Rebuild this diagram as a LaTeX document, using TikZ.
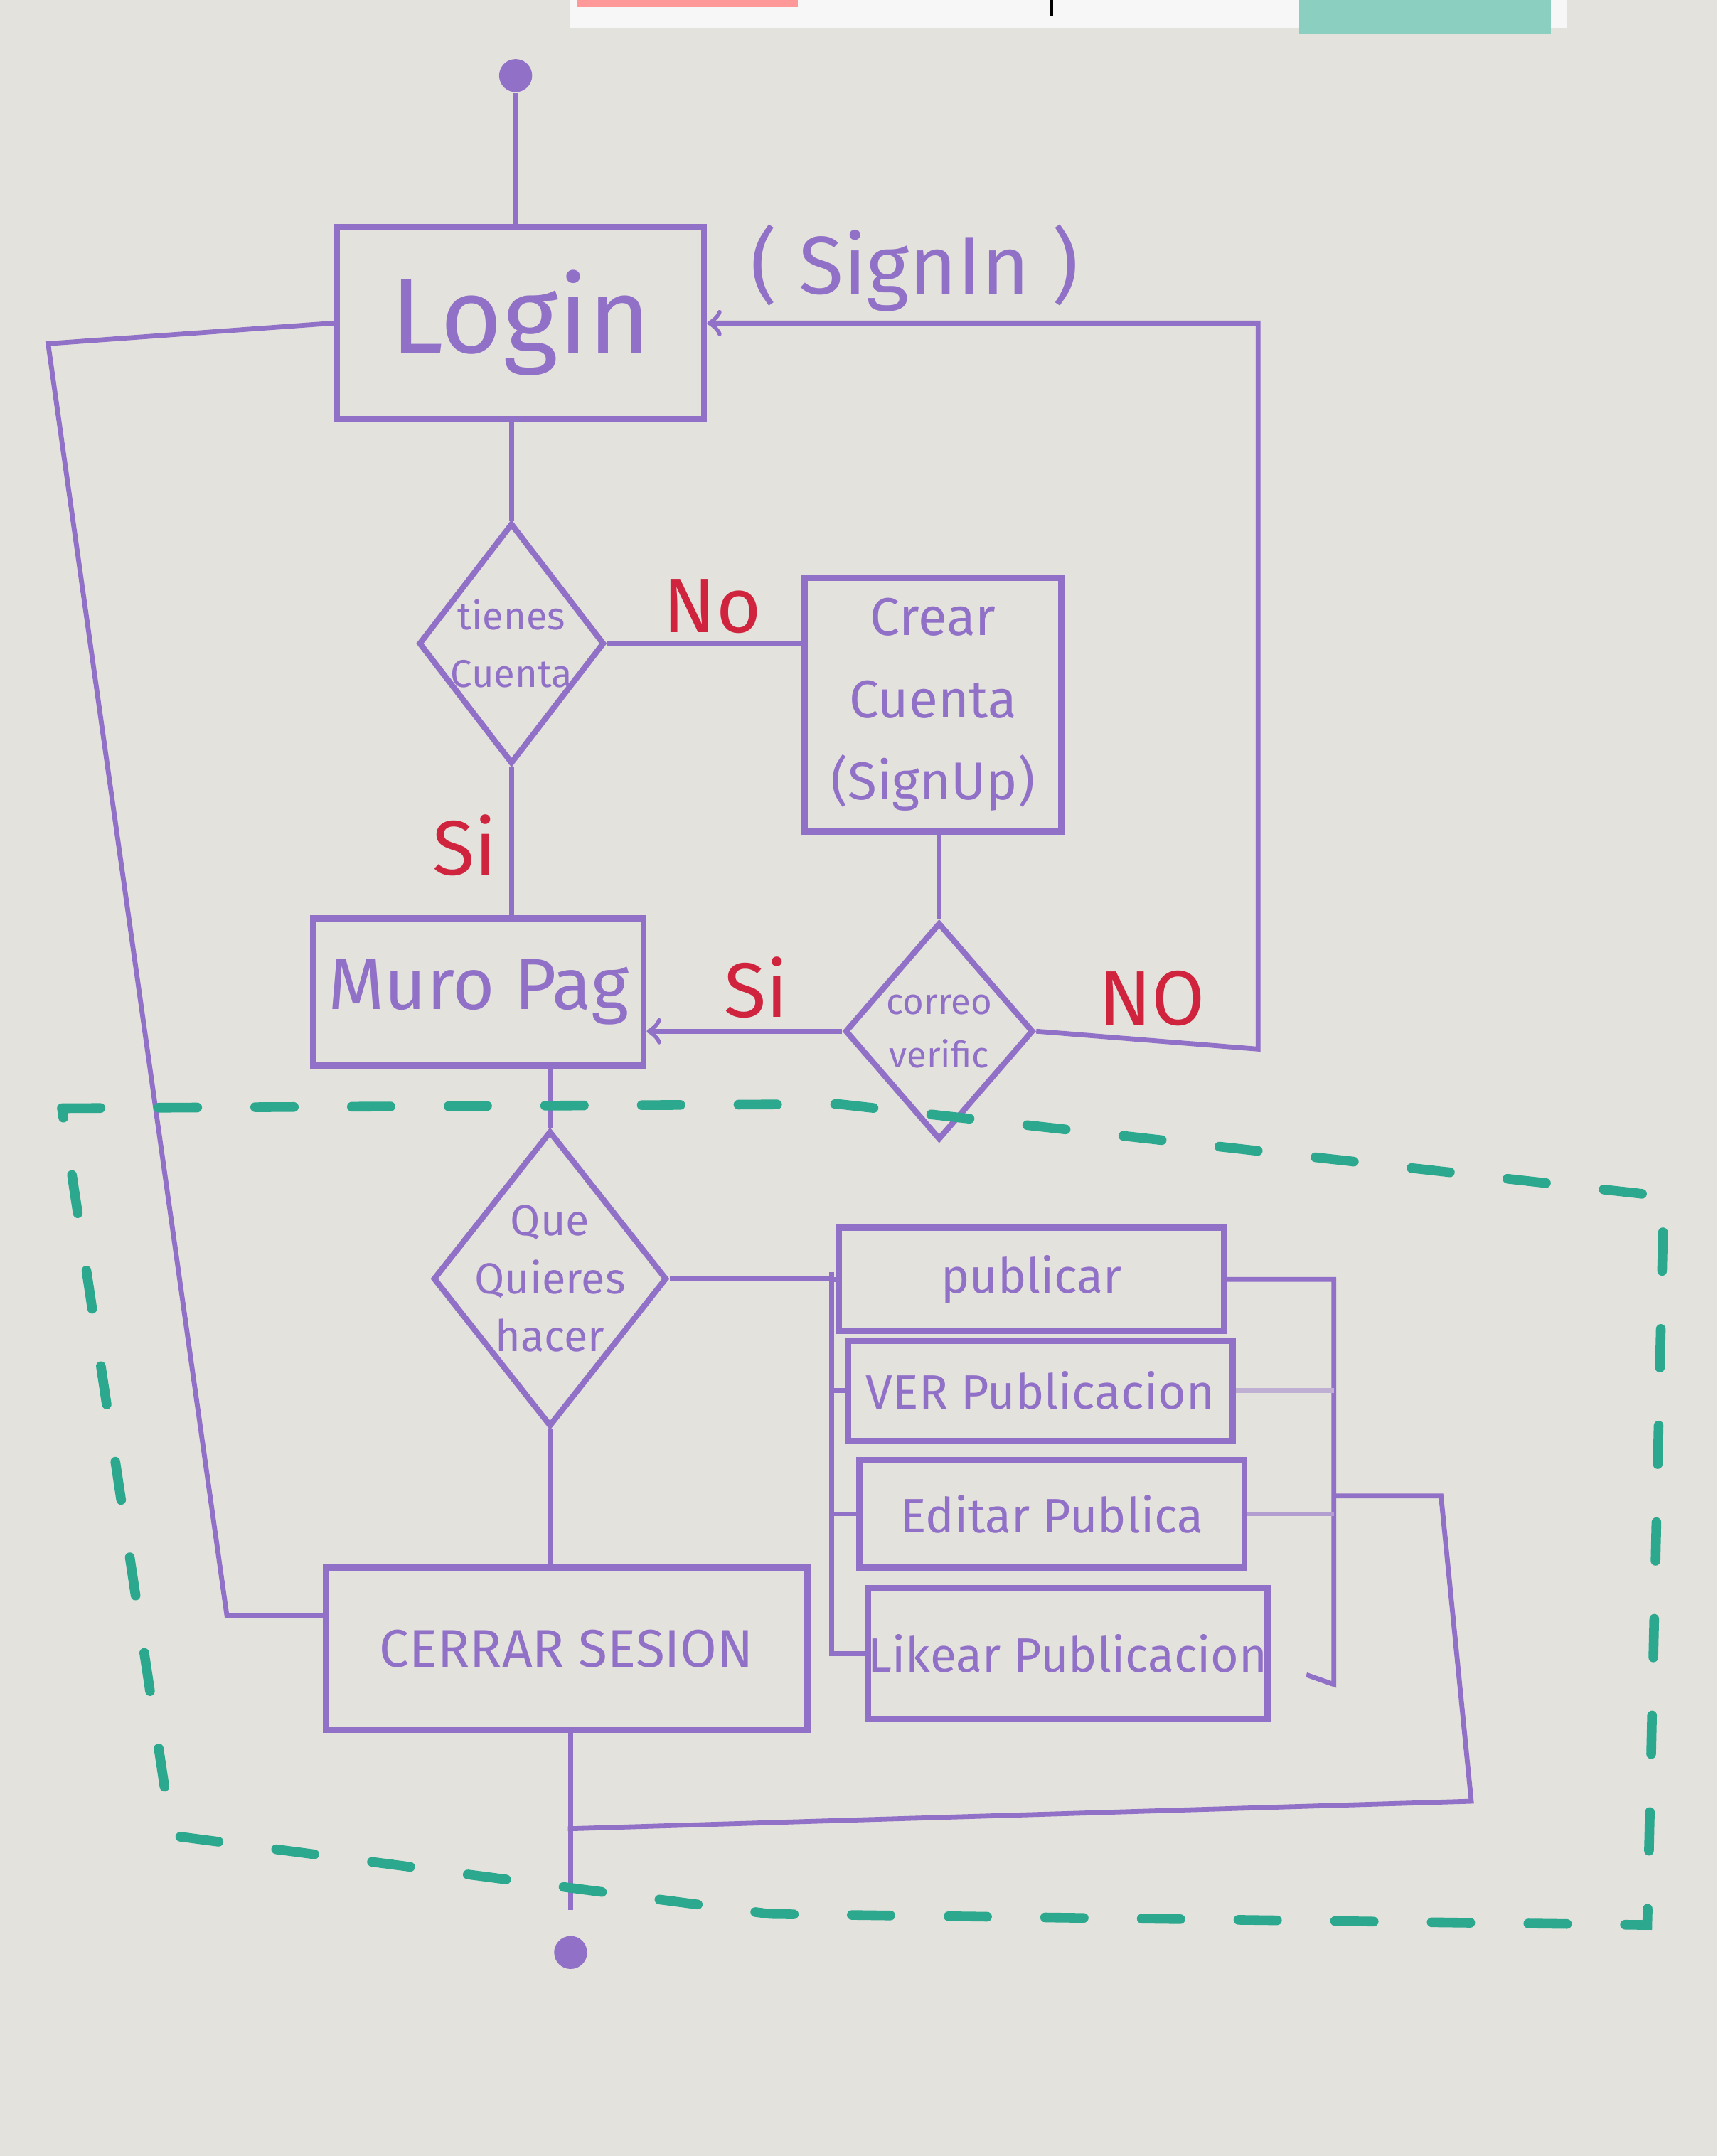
\documentclass[tikz,border=0pt]{standalone}
\usepackage{fontspec}
\setmainfont{Fira Sans}
\usetikzlibrary{shapes.geometric,positioning}

\definecolor{pen}{RGB}{145,112,200}
\definecolor{ink}{RGB}{208,36,62}
\definecolor{tealmark}{RGB}{44,168,142}
\definecolor{board}{RGB}{227,226,220}

\tikzset{
  box/.style={draw=pen, line width=1.3pt, rectangle, text=pen, align=center, inner sep=0pt},
  act/.style={box, minimum width=2.8cm, font=\fontsize{10}{10}\selectfont},
  choice/.style={draw=pen, line width=1.2pt, diamond, aspect=1, text=pen, align=center, inner sep=-2mm},
  answer/.style={text=ink, font=\fontsize{16}{16}\selectfont},
  wire/.style={draw=pen, line width=1pt},
  dot/.style={circle, fill=pen, inner sep=0pt, minimum size=2.4mm},
  zone/.style={draw=tealmark, line width=2pt, dash pattern=on 8pt off 12pt, line cap=round},
}

\begin{document}
\begin{tikzpicture}
\useasboundingbox (0,0) rectangle (12.49,15.68);
\fill[board] (0,0) rectangle (12.49,15.68);

% Papers stuck at the top
\fill[white!94!gray] (4.15,15.48) rectangle (11.40,15.68);
\fill[pink!80!red] (4.20,15.63) rectangle (5.80,15.68);
\draw[black, line width=0.6pt] (7.65,15.56) -- (7.65,15.68);
\fill[tealmark!55!white] (9.45,15.43) rectangle (11.28,15.68);

% Entry and login
\node[dot] (inicio) at (3.75,15.13) {};
\node[box, minimum width=2.67cm, minimum height=1.40cm, font=\fontsize{22}{22}\selectfont] (login) at (3.785,13.33) {Login};
\node[text=pen, font=\fontsize{17}{17}\selectfont] (signin) at (6.65,13.73) {( SignIn )};

% Account check
\node[choice, minimum width=1.35cm, minimum height=1.75cm, font=\fontsize{8}{12}\selectfont] (tienes) at (3.72,11.00) {tienes\\Cuenta};
\node[box, minimum width=1.87cm, minimum height=1.85cm, font=\fontsize{11}{17}\selectfont] (crear) at (6.785,10.555) {Crear\\Cuenta\\(SignUp)};
\node[choice, minimum width=1.37cm, minimum height=1.58cm, font=\fontsize{7.5}{11}\selectfont] (correo) at (6.83,8.18) {correo\\verific};
\node[box, minimum width=2.40cm, minimum height=1.07cm, font=\fontsize{15}{15}\selectfont] (muro) at (3.48,8.465) {Muro Pag};

\node[answer] (noA) at (5.18,11.27) {No};
\node[answer] (siA) at (3.38,9.53) {Si};
\node[answer] (siB) at (5.50,8.50) {Si};
\node[answer] (noB) at (8.38,8.42) {NO};

% Wall actions
\node[choice, minimum width=1.70cm, minimum height=2.15cm, font=\fontsize{9}{12}\selectfont] (que) at (4.00,6.38) {Que\\Quieres\\hacer};
\node[box, minimum width=3.50cm, minimum height=1.18cm, font=\fontsize{11}{11}\selectfont] (cerrar) at (4.12,3.69) {CERRAR SESION};
\node[act, minimum height=0.75cm] (publicar) at (7.50,6.375) {publicar};
\node[act, minimum height=0.73cm] (ver) at (7.565,5.565) {VER Publicacion};
\node[act, minimum height=0.78cm] (editar) at (7.65,4.67) {Editar Publica};
\node[act, minimum height=0.95cm] (likear) at (7.765,3.655) {Likear Publicacion};
\node[dot] (fin) at (4.15,1.48) {};

% Upper connectors
\draw[wire] (inicio) -- (inicio |- login.north);
\draw[wire] (tienes.north |- login.south) -- (tienes.north);
\draw[wire] (tienes.east) -- (tienes.east -| crear.west);
\draw[wire] (tienes.south) -- (tienes.south |- muro.north);
\draw[wire] (correo.north |- crear.south) -- (correo.north);
\draw[wire, ->] (correo.west) -- (correo.west -| muro.east);
\coordinate (vuelta) at (9.15,8.05);
\draw[wire, ->] (correo.east) -- (vuelta) |- (login.east);
\coordinate (izqA) at (0.35,13.18);
\coordinate (izqB) at (1.65,3.93);
\draw[wire] (login.west) -- (izqA) -- (izqB) -- (izqB -| cerrar.west);

% Lower connectors
\draw[wire] (que.north |- muro.south) -- (que.north);
\draw[wire] (que.south) -- (que.south |- cerrar.north);
\coordinate (bus) at (6.05,6.43);
\draw[wire] (que.east) -- (que.east -| bus);
\draw[wire] (bus) |- (likear.west);
\foreach \acc in {publicar,ver,editar}
  \draw[wire] (bus |- \acc.west) -- (\acc.west);
\coordinate (corchete) at (9.70,3.43);
\coordinate (gancho) at (9.50,3.50);
\draw[wire] (publicar.east) -| (corchete) -- (gancho);
\draw[wire, pen!45!board] (ver.east) -- (ver.east -| corchete);
\draw[wire, pen!60!board] (editar.east) -- (editar.east -| corchete);
\coordinate (retA) at (10.48,4.80);
\coordinate (retB) at (10.70,2.58);
\coordinate (union) at (4.13,2.38);
\draw[wire] (retA -| corchete) -- (retA) -- (retB) -- (union);
\draw[wire, shorten >=0.18cm] (cerrar.south -| fin) -- (fin.north);

% Dashed zone
\draw[zone] (0.45,7.62) -- (6.10,7.65) -- (12.10,6.98) -- (11.98,1.68) -- (5.60,1.76) -- (1.25,2.33) -- cycle;
\end{tikzpicture}
\end{document}
